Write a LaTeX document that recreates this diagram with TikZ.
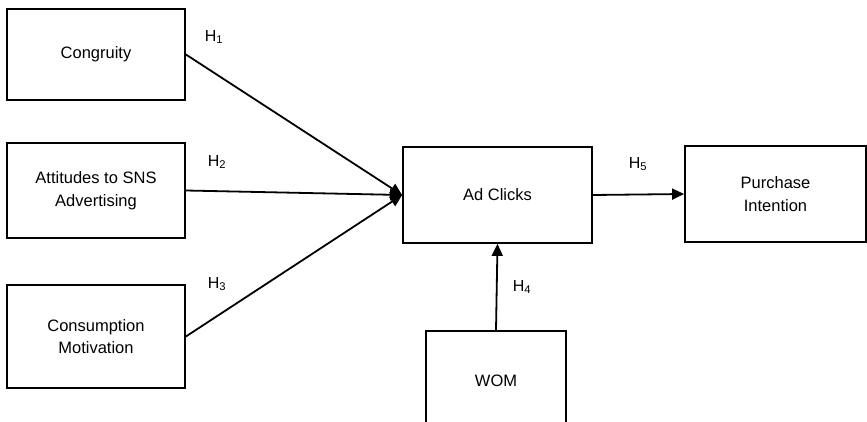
\documentclass[tikz,border=0pt]{standalone}
\usepackage{fontspec}
\setmainfont{Liberation Sans}
\usetikzlibrary{arrows.meta}
\begin{document}
\begin{tikzpicture}[x=1pt,y=-1pt,
  box/.style={draw, line width=1.8pt, rectangle, align=center, inner sep=0pt,
    font=\fontsize{16.5}{22.5}\selectfont},
  arr/.style={line width=1.8pt, -{Triangle[length=12pt,width=11pt]}},
  hyp/.style={inner sep=0pt, font=\fontsize{16}{19}\selectfont}]
\useasboundingbox (0,0) rectangle (867,422);
\clip (0,0) rectangle (867,422);
\fill[white] (0,0) rectangle (867,422);

% constructs
\node[box, minimum width=178pt, minimum height=91pt]  (cong) at (96,54.5)   {Congruity};
\node[box, minimum width=178pt, minimum height=95pt]  (att)  at (96,190.5)  {Attitudes to SNS\\Advertising};
\node[box, minimum width=178pt, minimum height=103pt] (cons) at (96,336.5)  {Consumption\\Motivation};
\node[box, minimum width=189pt, minimum height=96pt]  (ad)   at (497.5,195) {Ad Clicks};
\node[box, minimum width=181pt, minimum height=96pt]  (pur)  at (775.5,194) {Purchase\\Intention};
% the WOM box runs past the lower edge of the page
\node[box, minimum width=140pt, minimum height=100pt, anchor=north] (wom) at (496,330) {WOM};

% hypothesised paths
\draw[arr] (cong.east) -- (ad.west);
\draw[arr] (att.east)  -- (ad.west);
\draw[arr] (cons.east) -- (ad.west);
\draw[arr] (ad.east)   -- (pur.west);
\draw[arr] (wom.north) -- (ad.south);

% path labels
\node[hyp] (h1) at (214,37)  {H\textsubscript{1}};
\node[hyp] (h2) at (217,162) {H\textsubscript{2}};
\node[hyp] (h3) at (217,284) {H\textsubscript{3}};
\node[hyp] (h4) at (522,287) {H\textsubscript{4}};
\node[hyp] (h5) at (638,164) {H\textsubscript{5}};
\end{tikzpicture}
\end{document}
